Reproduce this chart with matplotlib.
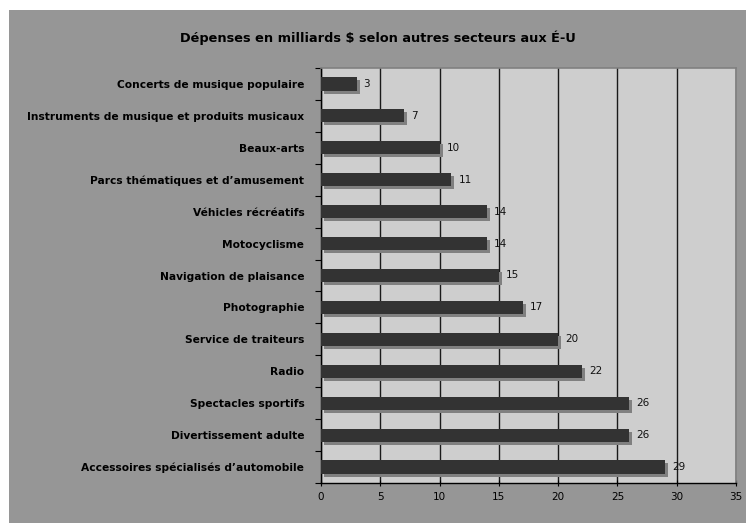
import matplotlib
matplotlib.use("Agg")
import matplotlib.pyplot as plt
from matplotlib.patches import Rectangle
from matplotlib.transforms import ScaledTranslation

categories = [
    "Concerts de musique populaire",
    "Instruments de musique et produits musicaux",
    "Beaux-arts",
    "Parcs thématiques et d\u2019amusement",
    "Véhicles récréatifs",
    "Motocyclisme",
    "Navigation de plaisance",
    "Photographie",
    "Service de traiteurs",
    "Radio",
    "Spectacles sportifs",
    "Divertissement adulte",
    "Accessoires spécialisés d\u2019automobile",
]
values = [3, 7, 10, 11, 14, 14, 15, 17, 20, 22, 26, 26, 29]
xticks = [0, 5, 10, 15, 20, 25, 30, 35]
title = "Dépenses en milliards $ selon autres secteurs aux É-U"

plt.rcParams['font.family'] = ['DejaVu Sans']

fig = plt.figure(figsize=(7.46, 5.23), dpi=100)
fig.patch.set_facecolor('white')
fig.patches.append(Rectangle((9/746, 0), 1 - 9/746, 1 - 10/523,
                             transform=fig.transFigure, facecolor='#969696',
                             edgecolor='none', zorder=-5))

ax = fig.add_axes([321/746, 1 - 483/523, (736 - 321)/746, (483 - 68)/523])
ax.set_zorder(2)
ax.set_facecolor('#cecece')

ypos = list(range(len(categories)))
shadow = ax.transData + ScaledTranslation(3/100, -3/100, fig.dpi_scale_trans)
ax.barh(ypos, values, height=0.41, color='#808080', transform=shadow, zorder=2)
ax.barh(ypos, values, height=0.41, color='#333333', zorder=3)

for y, v in zip(ypos, values):
    ax.annotate(str(v), (v, y), xytext=(5, 0), textcoords='offset points',
                va='center', ha='left', fontsize=7.5, color='#111111', zorder=4)

ax.set_xlim(0, 35)
ax.set_ylim(len(categories) - 0.5, -0.5)
ax.set_xticks(xticks)
ax.set_xticklabels([str(t) for t in xticks], fontsize=7.5)
ax.set_yticks(ypos)
ax.set_yticklabels(categories, fontsize=7.7, fontweight='bold')
ax.set_yticks([i + 0.5 for i in range(-1, len(categories))], minor=True)
ax.tick_params(axis='y', which='major', length=0, pad=12)
ax.tick_params(axis='y', which='minor', length=4, direction='out', width=0.8)
ax.tick_params(axis='x', which='major', length=5, direction='inout', width=0.8, pad=4)

ax.xaxis.grid(True, color='#1a1a1a', linewidth=1.0, zorder=1)
ax.set_axisbelow(True)
for s in ['top', 'right']:
    ax.spines[s].set_color('#808080')
    ax.spines[s].set_linewidth(1.2)
for s in ['left', 'bottom']:
    ax.spines[s].set_color('black')
    ax.spines[s].set_linewidth(1.0)

fig.text((9 + 746) / 2 / 746, 1 - 38/523, title, ha='center', va='center',
         fontsize=9.3, fontweight='bold', color='black')

fig.savefig("out.png", dpi=100)
